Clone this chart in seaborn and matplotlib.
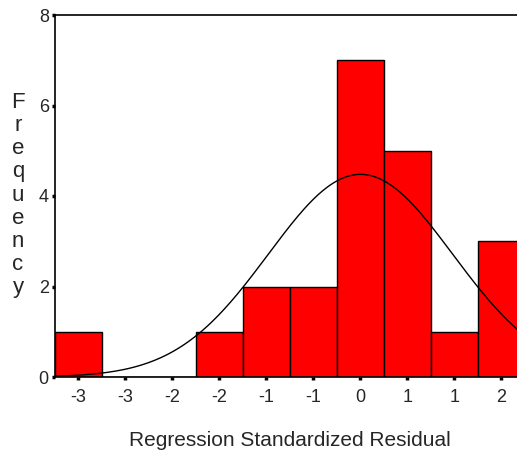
import numpy as np
import pandas as pd
import matplotlib
matplotlib.use("Agg")
import matplotlib.pyplot as plt
import seaborn as sns

# bin centres (width 0.5) and counts
bin_centers = [-3.0, -2.5, -2.0, -1.5, -1.0, -0.5, 0.0, 0.5, 1.0, 1.5]
counts = [1, 0, 0, 1, 2, 2, 7, 5, 1, 3]
tick_labels = ["-3", "-3", "-2", "-2", "-1", "-1", "0", "1", "1", "2"]
bin_width = 0.5
resid_mean = 0.0
resid_sd = 0.98
n_obs = 22

sns.set_style("white")
plt.rcParams["font.family"] = ["Liberation Sans", "DejaVu Sans"]

df = pd.DataFrame({"resid": bin_centers, "n": counts})

fig = plt.figure(figsize=(5.17, 4.55), dpi=100)
ax = fig.add_axes([55 / 517, 1 - 377 / 455, 1 - 55 / 517, (377 - 15) / 455])

sns.histplot(data=df, x="resid", weights="n", binwidth=bin_width,
             binrange=(bin_centers[0] - bin_width / 2, bin_centers[-1] + bin_width / 2),
             ax=ax, color="#ff0000", alpha=1, edgecolor="black", linewidth=1)

# normal curve scaled to counts
xs = np.linspace(-3.25, 1.7, 300)
ys = n_obs * bin_width / (resid_sd * np.sqrt(2 * np.pi)) * np.exp(-(xs - resid_mean) ** 2 / (2 * resid_sd ** 2))
ax.plot(xs, ys, color="black", linewidth=1)

ax.set_xlim(-3.25, 1.665)
ax.set_ylim(0, 8)
ax.set_xticks(bin_centers)
ax.set_xticklabels(tick_labels, fontsize=13)
ax.set_yticks([0, 2, 4, 6, 8])
ax.set_yticklabels(["0", "2", "4", "6", "8"], fontsize=13)
ax.tick_params(axis="both", direction="out", length=2.5, width=2.5, color="black",
               bottom=True, left=True)
ax.tick_params(axis="x", pad=6)
ax.tick_params(axis="y", pad=2)
ax.set_xlabel("")
ax.set_ylabel("")

for s in ["left", "top", "bottom"]:
    ax.spines[s].set_color("black")
    ax.spines[s].set_linewidth(1.2)
ax.spines["right"].set_visible(False)

fig.text(290 / 517, 1 - 440 / 455, "Regression Standardized Residual",
         fontsize=15, ha="center", va="center")
fig.text(18 / 517, 1 - 195 / 455, "\n".join("Frequency"), fontsize=16,
         ha="center", va="center", linespacing=1.13)

fig.savefig("out.png", dpi=100)
